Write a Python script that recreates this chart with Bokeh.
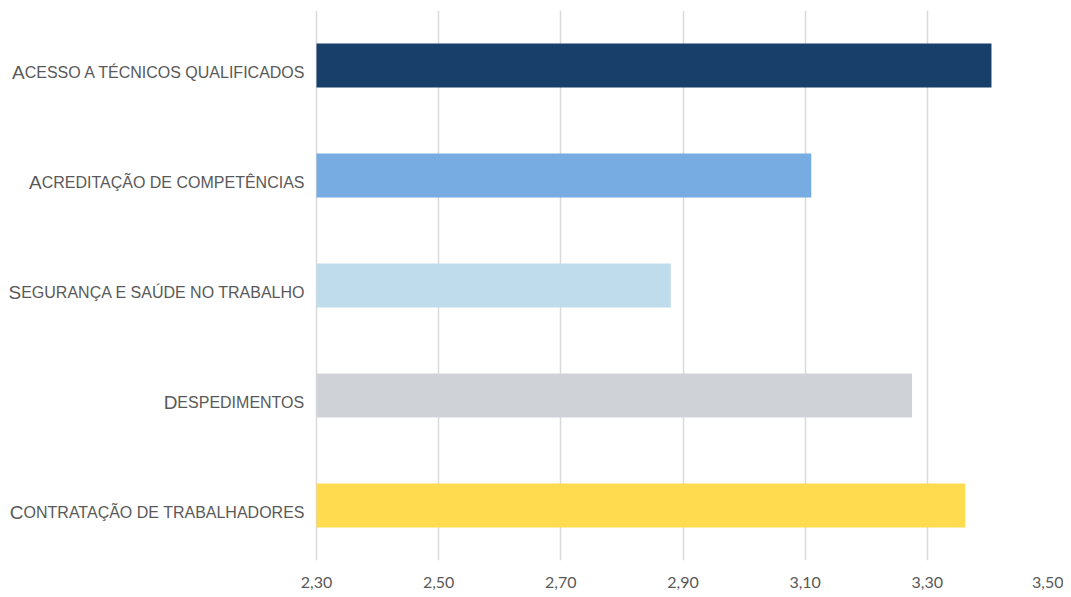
from bokeh.plotting import figure
from bokeh.models import FixedTicker, FactorRange, Range1d, ColumnDataSource
from bokeh.core.properties import value
from bokeh.embed import file_html
from bokeh.resources import INLINE

# ---- data ----
categories = [
    "Acesso a técnicos qualificados",
    "Acreditação de competências",
    "Segurança e saúde no trabalho",
    "Despedimentos",
    "Contratação de trabalhadores",
]
values = [3.405, 3.11, 2.88, 3.275, 3.362]
colors = ["#173F6A", "#77ACE3", "#BFDCEC", "#CFD3D8", "#FFDB50"]
ticks = [2.30, 2.50, 2.70, 2.90, 3.10, 3.30, 3.50]
tick_labels = ["2,30", "2,50", "2,70", "2,90", "3,10", "3,30", "3,50"]
x_min, x_max = 2.30, 3.50

# Arial/Liberation Sans advance widths (per 1000 em) used to place small-caps labels
CW = {" ": 278, "A": 667, "B": 667, "C": 722, "D": 722, "E": 667, "F": 611,
      "G": 778, "H": 722, "I": 278, "J": 500, "K": 667, "L": 556, "M": 833,
      "N": 722, "O": 778, "P": 667, "Q": 778, "R": 722, "S": 667, "T": 611,
      "U": 722, "V": 667, "W": 944, "X": 667, "Y": 667, "Z": 611,
      "Ç": 722, "Ã": 667, "Ê": 667, "É": 667, "Ú": 722}
BASE = {"Ç": "C", "Ã": "A", "Ê": "E", "É": "E", "Ú": "U"}
KERN = {("A", "T"): -74, ("T", "A"): -74, ("A", " "): -55, (" ", "A"): -55,
        (" ", "T"): -18, ("L", "T"): -74, ("P", "A"): -74, ("A", "V"): -74,
        ("A", "Y"): -74, ("A", "W"): -37, ("L", "Y"): -74, ("F", "A"): -55}


def text_width(s, size):
    w = sum(CW.get(ch, 600) for ch in s)
    b = [BASE.get(ch, ch) for ch in s]
    w += sum(KERN.get((b[i], b[i + 1]), 0) for i in range(len(b) - 1))
    return w * size / 1000.0


# layout (pixels)
W, H = 1063, 597
label_area = 316          # space left of the 2,30 line for category labels
plot_px = 733             # pixels between 2,30 and 3,50
units_per_px = (x_max - x_min) / plot_px
x_start = x_min - label_area * units_per_px

factors = list(reversed(categories))
p = figure(
    width=W, height=H,
    y_range=FactorRange(factors=factors, range_padding=0),
    x_range=Range1d(x_start, x_max),
    output_backend="svg", toolbar_location=None,
    min_border_left=0, min_border_right=14,
    min_border_top=10, min_border_bottom=37,
)

p.hbar(y=categories, left=x_min, right=values, height=0.4,
       fill_color=colors, line_color=None)

p.outline_line_color = None
p.background_fill_color = "white"
p.border_fill_color = "white"

p.yaxis.visible = False
p.ygrid.grid_line_color = None

p.xaxis.ticker = FixedTicker(ticks=ticks)
p.xaxis.major_label_overrides = {t: l for t, l in zip(ticks, tick_labels)}
p.xaxis.axis_line_color = None
p.xaxis.major_tick_line_color = None
p.xaxis.minor_tick_line_color = None
p.xaxis.major_label_standoff = 10
p.xaxis.major_label_text_font = "Lato"
p.xaxis.major_label_text_font_size = "16px"
p.xaxis.major_label_text_color = "#595959"

p.xgrid.ticker = FixedTicker(ticks=ticks)
p.xgrid.grid_line_color = "#D9D9D9"
p.xgrid.grid_line_width = 1.5

# small-caps style category labels: big first letter + smaller uppercase rest
big, small = 19, 16
right_edge = -12
firsts = [c[0].upper() for c in categories]
rests = [c[1:].upper() for c in categories]
first_off = [right_edge - text_width(r, small) - text_width(f, big)
             for f, r in zip(firsts, rests)]
rest_off = [fo + text_width(f, big) for fo, f in zip(first_off, firsts)]
src = ColumnDataSource(dict(
    y=categories,
    x=[x_min] * len(categories),
    rest=rests,
    first=firsts,
    first_off=first_off,
    rest_off=rest_off,
))
p.text(x="x", y="y", text="first", source=src, x_offset="first_off", y_offset=7,
       text_align="left", text_baseline="alphabetic",
       text_font=value("Liberation Sans"), text_font_size=f"{big}px",
       text_color="#595959")
p.text(x="x", y="y", text="rest", source=src, x_offset="rest_off", y_offset=7,
       text_align="left", text_baseline="alphabetic",
       text_font=value("Liberation Sans"), text_font_size=f"{small}px",
       text_color="#595959")

open("out.html", "w").write(file_html(p, INLINE))
